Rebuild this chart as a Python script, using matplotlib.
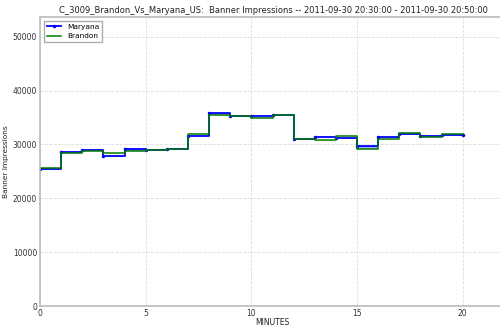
import numpy as np
import matplotlib.pyplot as plt

plt.rcParams['font.family'] = 'DejaVu Sans'

# Impressões por minuto (degraus "post", último valor repetido em 20)
minutes = list(range(0, 21))
maryana = [25500, 28550, 28900, 27900, 29200, 29000, 29200, 31600, 35750, 35350,
           35350, 35400, 31100, 31400, 31250, 29700, 31300, 31950, 31550, 31750, 31750]
brandon = [25700, 28400, 28800, 28400, 28850, 29000, 29150, 31850, 35500, 35350,
           34950, 35450, 31100, 30850, 31650, 29200, 31050, 32050, 31400, 31850, 31850]

x = np.array(minutes)
m = np.array(maryana)
b = np.array(brandon)

fig = plt.figure(figsize=(5.0, 3.26), dpi=100)
ax = fig.add_axes([0.08, 0.061, 0.93, 0.886])

ax.fill_between(x, m, b, where=m >= b, step='post', color='#0000ff', alpha=0.35,
                linewidth=0, interpolate=False)
ax.fill_between(x, m, b, where=b >= m, step='post', color='#008000', alpha=0.45,
                linewidth=0, interpolate=False)
ax.plot(x, m, drawstyle='steps-post', color='#0000ff', linewidth=1.3,
        marker='.', markersize=3, label='Maryana')
ax.plot(x, b, drawstyle='steps-post', color='#007a00', linewidth=1.1,
        label='Brandon')

ax.set_xlim(0, 22)
ax.set_ylim(0, 53600)
ax.set_xticks([0, 5, 10, 15, 20])
ax.set_yticks([0, 10000, 20000, 30000, 40000, 50000])
ax.tick_params(labelsize=5.5, length=0, pad=2, colors='#333333')
ax.grid(True, linestyle='--', color='#dddddd', linewidth=0.6)
for s in ax.spines.values():
    s.set_color('#bbbbbb')
    s.set_linewidth(1.2)

ax.set_xlabel('MINUTES', fontsize=5.5, labelpad=0, color='#222222')
ax.set_ylabel('Banner Impressions', fontsize=5.3, labelpad=3, color='#222222')
fig.text(0.546, 0.968, 'C_3009_Brandon_Vs_Maryana_US:  Banner Impressions -- 2011-09-30 20:30:00 - 2011-09-30 20:50:00',
         fontsize=6.0, ha='center', va='center', color='#222222')
ax.legend(loc='upper left', fontsize=5.3, handlelength=2.0, borderpad=0.4,
          labelspacing=0.4, fancybox=False, edgecolor='#999999')

fig.savefig('out.png', dpi=100)
